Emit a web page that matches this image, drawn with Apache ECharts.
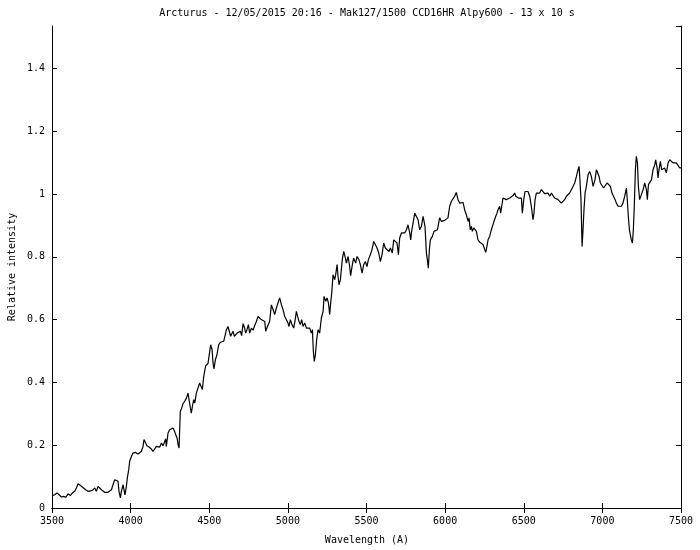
<!DOCTYPE html>
<html>
<head>
<meta charset="utf-8">
<script src="https://cdn.jsdelivr.net/npm/echarts@6/dist/echarts.min.js"></script>
<style>
html,body{margin:0;padding:0;background:#fff;}
#chart{width:700px;height:550px;}
</style>
</head>
<body>
<div id="chart"></div>
<script>
// ---- Data ----
const titleText = "Arcturus - 12/05/2015 20:16 - Mak127/1500 CCD16HR Alpy600 - 13 x 10 s";
const xLabel = "Wavelength (A)";
const yLabel = "Relative intensity";
const xTicks = [3500, 4000, 4500, 5000, 5500, 6000, 6500, 7000, 7500];
const yTicks = [0, 0.2, 0.4, 0.6, 0.8, 1, 1.2, 1.4];

const wavelength = [
3502,3517,3532,3545,3560,3574,3587,3602,3617,3630,3644,3655,3666,3676,3687,3697,3714,3729,
3740,3757,3772,3782,3793,3803,3814,3824,3835,3846,3856,3867,3878,3888,3899,3909,3920,3926,3935,3941,
3952,3958,3964,3973,3979,3988,3994,4005,4015,4032,4047,4058,4068,4079,4085,4094,4104,4117,4132,4142,
4153,4164,4174,4185,4196,4206,4217,4223,4227,4238,4248,4259,4270,4280,4287,4295,4302,4308,
4316,4323,4333,4344,4355,4365,4372,4380,4386,4393,4401,4408,4418,4429,
4439,4450,4456,4465,4477,4492,4503,4509,4518,4524,4530,4539,4549,4560,4571,4583,4592,4600,4609,4619,
4630,4636,4645,4651,4660,4668,4677,4687,4698,4706,4715,4725,4732,4740,4749,4757,4768,4778,4789,4800,
4810,4821,4831,4842,4853,4859,4870,
4884,4895,4906,4916,4927,4937,4948,4959,4969,4980,4990,5001,5007,5016,5026,5037,5045,5054,5062,5071,
5079,5088,5096,5107,5118,5128,5139,5149,5156,5162,5168,5175,5183,5192,5202,5213,5224,5230,5241,5249,
5258,5266,5272,5279,
5287,5298,5304,5313,5319,5325,5334,5346,5355,5366,5372,5383,5393,5399,5410,5418,5431,5440,5452,5461,
5472,5482,5493,5503,5512,5525,5535,5546,5556,5567,5578,5588,5599,5609,5620,5631,5643,5652,5664,5673,
5684,5694,5703,5711,5722,5732,5743,5754,5764,5775,5781,5787,5796,5807,5817,5828,5838,5849,5860,5866,
5872,5881,5887,5893,5900,5906,5919,5929,5940,5951,
5965,5976,5987,5997,6008,6018,6029,6040,6050,6061,6071,6082,6093,6103,6114,6124,6135,6146,6152,6160,
6167,6173,6182,6190,6199,6209,6220,6230,6241,6252,6258,6266,6273,6283,6294,6305,6311,6322,6330,6336,
6347,6353,6360,6368,6379,6389,6400,6411,6421,6432,6442,6449,6457,6466,6474,6485,6491,6500,6508,6517,
6527,6538,6548,6559,6565,6572,6580,6591,6601,6612,6623,6633,6644,6654,6665,6676,6686,6697,6707,6718,
6729,6739,6750,6760,6771,6782,6792,6803,6813,6824,6835,6845,6852,6856,6864,6871,6877,6883,6890,6898,
6909,6919,6930,6941,6947,6953,6962,6970,6979,6987,6998,7008,7019,7030,7040,7051,7061,7072,7081,7089,
7100,7110,7121,7131,7142,7153,7159,7165,7172,7178,7184,7191,7197,7203,7210,7216,7223,7229,7237,7248,
7259,7269,7280,7286,7293,7301,7312,7322,7333,7339,7348,7354,7360,7369,7377,7386,7396,7407,7418,7428,
7439,7449,7460,7470,7481,7492,7500
];

const intensity = [
0.039,0.042,0.048,0.042,0.035,0.037,0.034,0.045,0.040,0.048,0.053,0.064,0.077,0.074,0.069,0.064,0.058,0.053,
0.048,0.056,0.064,0.053,0.069,0.071,0.058,0.064,0.050,0.053,0.050,0.056,0.058,0.074,0.090,0.092,0.085,0.053,0.032,0.053,
0.074,0.058,0.042,0.069,0.095,0.122,0.149,0.164,0.175,0.177,0.172,0.175,0.180,0.196,0.218,0.215,0.198,0.194,0.188,0.180,
0.186,0.196,0.202,0.194,0.207,0.198,0.202,0.220,0.196,0.239,0.249,0.244,0.255,0.244,0.233,0.223,0.202,0.191,
0.308,0.315,0.332,0.340,0.350,0.366,0.361,0.318,0.302,0.324,0.345,0.334,0.366,0.371,
0.398,0.393,0.377,0.419,0.453,0.460,0.499,0.520,0.504,0.462,0.443,0.472,0.488,0.520,0.528,0.523,0.531,0.525,0.568,0.578,
0.573,0.547,0.541,0.563,0.547,0.544,0.557,0.552,0.563,0.549,0.587,0.573,0.557,0.568,0.584,0.557,0.573,0.566,0.581,0.594,
0.610,0.615,0.600,0.602,0.594,0.563,0.578,
0.594,0.647,0.632,0.616,0.637,0.653,0.669,0.647,0.632,0.610,0.605,0.589,0.578,0.600,0.584,0.573,0.594,0.626,0.610,0.594,
0.584,0.600,0.578,0.589,0.573,0.568,0.573,0.557,0.568,0.499,0.467,0.488,0.536,0.568,0.557,0.605,0.626,0.674,0.658,0.669,
0.653,0.616,0.653,0.685,
0.743,0.727,0.743,0.775,0.738,0.711,0.727,0.791,0.817,0.796,0.780,0.801,0.769,0.740,0.775,0.796,0.780,0.801,0.791,0.775,
0.748,0.775,0.785,0.769,0.791,0.807,0.823,0.849,0.839,0.828,0.812,0.785,0.807,0.844,0.828,0.833,0.817,0.828,0.812,0.854,
0.849,0.844,0.807,0.860,0.876,0.881,0.876,0.886,0.902,0.876,0.854,0.881,0.907,0.939,0.945,0.918,0.886,0.897,0.929,0.934,
0.897,0.812,0.791,0.764,0.823,0.854,0.865,0.881,0.876,0.886,
0.924,0.913,0.918,0.916,0.918,0.924,0.961,0.977,0.982,0.993,1.005,0.982,0.971,0.977,0.973,0.950,0.934,0.913,0.924,0.886,
0.897,0.881,0.892,0.895,0.881,0.854,0.846,0.844,0.839,0.823,0.814,0.833,0.854,0.865,0.886,0.892,0.913,0.929,0.939,0.950,
0.961,0.939,0.961,0.987,0.993,0.982,0.982,0.987,0.982,0.995,1.003,0.993,0.998,0.987,0.993,0.987,0.939,0.982,1.008,1.014,
1.008,0.993,0.961,0.918,0.939,0.982,1.003,1.008,1.003,1.014,1.008,1.001,0.998,1.003,0.993,1.003,0.995,0.987,0.993,0.982,
0.987,0.971,0.966,0.982,0.993,0.998,1.003,1.008,1.024,1.035,1.056,1.077,1.088,1.056,0.982,0.833,0.886,0.950,1.003,1.024,
1.061,1.072,1.056,1.024,1.030,1.045,1.077,1.083,1.056,1.035,1.030,1.019,1.024,1.035,1.040,1.024,1.003,1.003,0.982,0.971,
0.961,0.955,0.961,0.971,0.993,1.019,0.977,0.929,0.886,0.870,0.854,0.844,0.886,0.961,1.077,1.120,1.099,1.024,0.982,0.987,
1.014,1.035,1.014,0.982,1.030,1.024,1.045,1.077,1.093,1.109,1.083,1.051,1.077,1.104,1.077,1.072,1.083,1.067,1.099,1.109,
1.104,1.099,1.101,1.099,1.093,1.083,1.083
];

// ---- Chart ----
const FONT = "DejaVu Sans Mono";
const seriesData = wavelength.map((w, i) => [w, intensity[i]]);
const chart = echarts.init(document.getElementById('chart'), null, {renderer: 'canvas'});

const axisLineStyle = {show: true, lineStyle: {color: '#000', width: 1}};
const tickStyle = {show: true, inside: true, length: 5, lineStyle: {color: '#000', width: 1}};
const labelStyle = {color: '#000', fontFamily: FONT, fontSize: 10};

const option = {
  animation: false,
  backgroundColor: '#fff',
  grid: {left: 52, right: 19, top: 26, bottom: 42, containLabel: false},
  xAxis: [
    {type: 'value', min: xTicks[0], max: xTicks[xTicks.length - 1], interval: 500, position: 'bottom',
     axisLine: axisLineStyle, axisTick: tickStyle, splitLine: {show: false},
     axisLabel: Object.assign({margin: 8, formatter: v => String(v)}, labelStyle)},
    {type: 'value', min: xTicks[0], max: xTicks[xTicks.length - 1], interval: 500, position: 'top',
     axisLine: axisLineStyle, axisTick: tickStyle, splitLine: {show: false}, axisLabel: {show: false}}
  ],
  yAxis: [
    {type: 'value', min: 0, max: 1.535, interval: 0.2, position: 'left',
     axisLine: axisLineStyle, axisTick: tickStyle, splitLine: {show: false},
     axisLabel: Object.assign({margin: 7, showMaxLabel: false,
       formatter: v => (yTicks.some(t => Math.abs(t - v) < 1e-6) ? String(+v.toFixed(1)) : '')}, labelStyle)},
    {type: 'value', min: 0, max: 1.535, interval: 0.2, position: 'right',
     axisLine: axisLineStyle, axisTick: tickStyle, splitLine: {show: false}, axisLabel: {show: false}}
  ],
  graphic: [
    {type: 'text', x: 367, y: 13, style: {text: titleText, align: 'center', verticalAlign: 'middle', fill: '#000', font: '10px "' + FONT + '"'}},
    {type: 'text', x: 367, y: 540, style: {text: xLabel, align: 'center', verticalAlign: 'middle', fill: '#000', font: '10px "' + FONT + '"'}},
    {type: 'text', x: 12, y: 267, rotation: Math.PI / 2, style: {text: yLabel, align: 'center', verticalAlign: 'middle', fill: '#000', font: '10px "' + FONT + '"'}}
  ],
  series: [{
    type: 'line', xAxisIndex: 0, yAxisIndex: 0, data: seriesData, showSymbol: false,
    lineStyle: {color: '#000', width: 1.2}, clip: true
  }]
};
chart.setOption(option);
</script>
</body>
</html>
